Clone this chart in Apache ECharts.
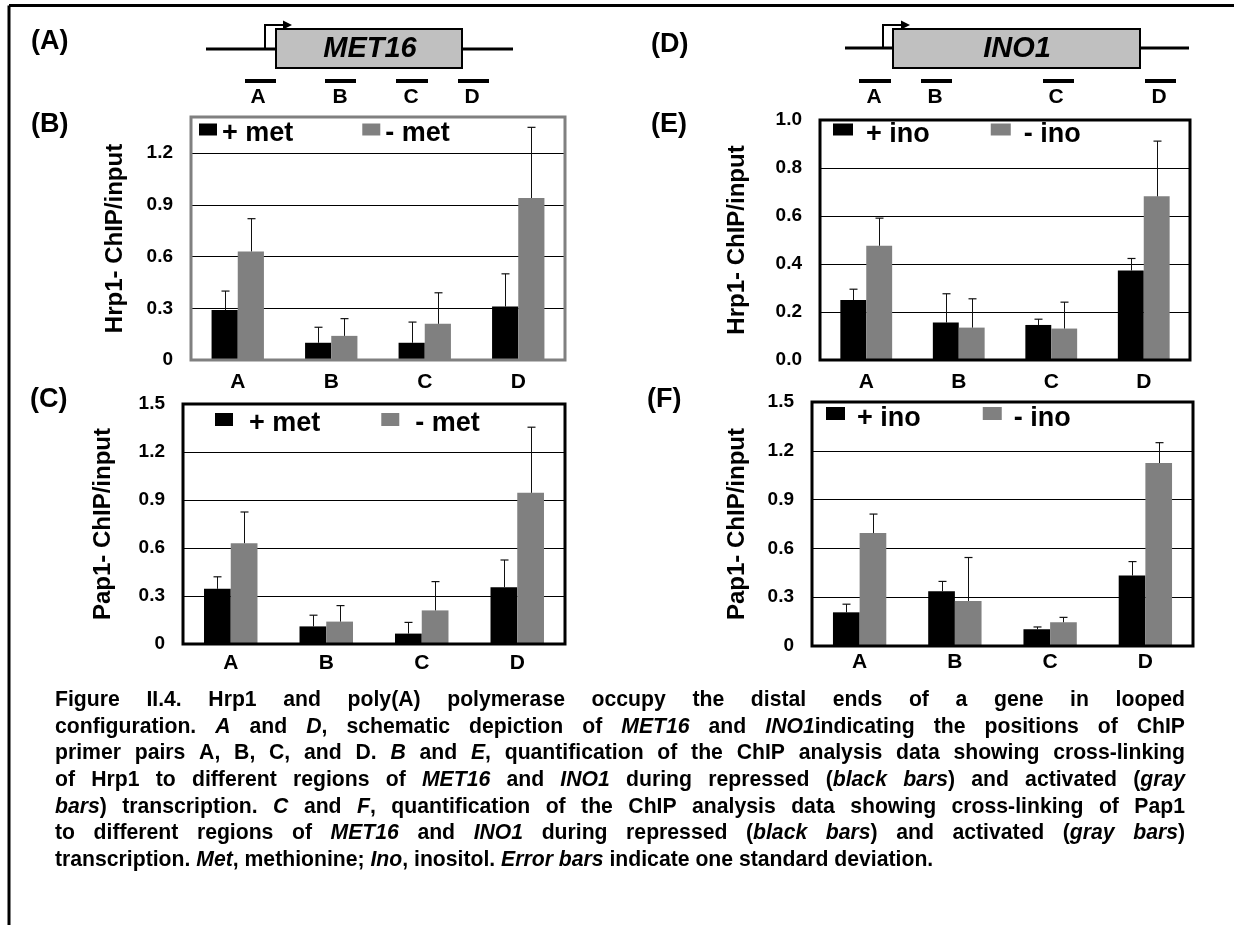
<!DOCTYPE html>
<html><head><meta charset="utf-8">
<script src="https://cdn.jsdelivr.net/npm/echarts@6/dist/echarts.min.js"></script>
<style>html,body{margin:0;padding:0;background:#fff}#c{width:1234px;height:925px}</style>
</head><body><div id="c"></div>
<script>
// ---------------- data ----------------
const categories = ['A', 'B', 'C', 'D'];
// (B) Hrp1 ChIP at MET16
const hrp1MetPlus = [0.29, 0.10, 0.10, 0.31];
const hrp1MetPlusSd = [0.11, 0.09, 0.12, 0.19];
const hrp1MetMinus = [0.63, 0.14, 0.21, 0.94];
const hrp1MetMinusSd = [0.19, 0.10, 0.18, 0.41];
// (C) Pap1 ChIP at MET16
const pap1MetPlus = [0.345, 0.11, 0.065, 0.355];
const pap1MetPlusSd = [0.075, 0.07, 0.07, 0.17];
const pap1MetMinus = [0.63, 0.14, 0.21, 0.945];
const pap1MetMinusSd = [0.195, 0.10, 0.18, 0.41];
// (E) Hrp1 ChIP at INO1
const hrp1InoPlus = [0.25, 0.156, 0.146, 0.373];
const hrp1InoPlusSd = [0.045, 0.12, 0.024, 0.05];
const hrp1InoMinus = [0.476, 0.135, 0.131, 0.682];
const hrp1InoMinusSd = [0.115, 0.12, 0.11, 0.23];
// (F) Pap1 ChIP at INO1
const pap1InoPlus = [0.207, 0.337, 0.103, 0.433];
const pap1InoPlusSd = [0.05, 0.06, 0.014, 0.086];
const pap1InoMinus = [0.694, 0.277, 0.146, 1.125];
const pap1InoMinusSd = [0.117, 0.267, 0.03, 0.125];
// axis ticks
const metHrpMax = 1.41, metHrpStep = 0.3;
const inoHrpMax = 1.0, inoHrpStep = 0.2;
const papMax = 1.5, papStep = 0.3;
const legendMet = ['+ met', '- met'];
const legendIno = ['+ ino', '- ino'];
const yNames = ['Hrp1- ChIP/input', 'Pap1- ChIP/input', 'Hrp1- ChIP/input', 'Pap1- ChIP/input'];
const panelLetters = ['(A)', '(B)', '(C)', '(D)', '(E)', '(F)'];
const geneNames = ['MET16', 'INO1'];
const captionLines = [
  'Figure II.4. Hrp1 and poly(A) polymerase occupy the distal ends of a gene in looped',
  'configuration. *A* and *D*, schematic depiction of *MET16* and *INO1*indicating the positions of ChIP',
  'primer pairs A, B, C, and D. *B* and *E*, quantification of the ChIP analysis data showing cross-linking',
  'of Hrp1 to different regions of *MET16* and *INO1* during repressed (*black bars*) and activated (*gray*',
  '*bars*) transcription. *C* and *F*, quantification of the ChIP analysis data showing cross-linking of Pap1',
  'to different regions of *MET16* and *INO1* during repressed (*black bars*) and activated (*gray bars*)',
  'transcription. *Met*, methionine; *Ino*, inositol. *Error bars* indicate one standard deviation.'
];

// ---------------- styling / layout ----------------
const FONT = '"Liberation Sans", Arial, sans-serif';
const BLACK = '#000000', GRAY = '#808080';
const grids = [
  { left: 191, top: 117, width: 374, height: 243, border: '#808080' }, // B
  { left: 183, top: 404, width: 382, height: 240, border: '#000' },    // C
  { left: 820, top: 120, width: 370, height: 240, border: '#000' },    // E
  { left: 812, top: 402, width: 381, height: 244, border: '#000' }     // F
];
const nameGaps = [64, 68, 71, 63];
const xMargins = [12, 9, 12, 6];

const fmt0 = v => (v === 0 ? '0' : v.toFixed(1));
const fmt1 = v => v.toFixed(1);

function yAx(gi, max, interval, fmt, showMax) {
  return {
    type: 'value', gridIndex: gi, min: 0, max: max, interval: interval,
    name: yNames[gi], nameLocation: 'middle', nameGap: nameGaps[gi], nameMoveOverlap: false,
    nameTextStyle: { fontSize: 24, fontWeight: 'bold', color: '#000', fontFamily: FONT },
    axisLine: { show: false }, axisTick: { show: false },
    axisLabel: { fontSize: 19, fontWeight: 'bold', color: '#000', fontFamily: FONT, margin: 18, formatter: fmt, showMaxLabel: showMax, showMinLabel: true },
    splitLine: { show: true, lineStyle: { color: '#000', width: 1 } }
  };
}
function xAx(gi) {
  return {
    type: 'category', gridIndex: gi, data: categories,
    axisLine: { show: false }, axisTick: { show: false },
    axisLabel: { fontSize: 21, fontWeight: 'bold', color: '#000', fontFamily: FONT, margin: xMargins[gi], interval: 0 },
    splitLine: { show: false }
  };
}
function barS(gi, name, data, color) {
  return { type: 'bar', name: name, xAxisIndex: gi, yAxisIndex: gi, data: data,
    barWidth: '28%', barGap: '0%', itemStyle: { color: color }, z: 2, silent: true };
}
function errS(gi, means, sds, side) {
  return {
    type: 'custom', xAxisIndex: gi, yAxisIndex: gi, z: 4, silent: true,
    data: means.map((m, i) => [i, m, sds[i]]),
    encode: { x: 0, y: 1 },
    renderItem: function (params, api) {
      const c = api.value(0), m = api.value(1), sd = api.value(2);
      const p0 = api.coord([c, m]);
      const p1 = api.coord([c, m + sd]);
      const bw = api.size([1, 0])[0];
      const x = Math.round(p0[0] + side * bw * 0.14) + 0.5;
      const cap = 4;
      return { type: 'group', children: [
        { type: 'line', shape: { x1: x, y1: p0[1], x2: x, y2: p1[1] }, style: { stroke: '#111', lineWidth: 1 } },
        { type: 'line', shape: { x1: x - cap, y1: p1[1], x2: x + cap, y2: p1[1] }, style: { stroke: '#111', lineWidth: 1.2 } }
      ] };
    }
  };
}
// legend square raised above the text centre: invisible point below the square extends the icon box
function sqIcon(w, h, d) { return 'path://M0,0L' + w + ',0L' + w + ',' + h + 'L0,' + h + 'Z M0,' + (h + 2 * d) + 'L0,' + (h + 2 * d); }
function leg(names, left, top, iw, ih, d, gap, pad) {
  return { data: names, left: left, top: top, orient: 'horizontal', itemWidth: iw, itemHeight: ih + 2 * d,
    itemGap: gap, padding: 0, selectedMode: false, icon: sqIcon(iw, ih, d),
    textStyle: { fontSize: 27, fontWeight: 'bold', color: '#000', fontFamily: FONT, padding: [0, 0, 0, pad] } };
}

// ---------------- graphics: frame, schematics, labels, caption ----------------
const g = [];
g.push({ type: 'line', shape: { x1: 9, y1: 5.5, x2: 1234, y2: 5.5 }, style: { stroke: '#000', lineWidth: 3 } });
g.push({ type: 'line', shape: { x1: 9, y1: 5.5, x2: 9, y2: 925 }, style: { stroke: '#000', lineWidth: 3 } });

function txt(t, x, y, size, opts) {
  return Object.assign({ type: 'text', x: x, y: y, style: { text: t, fill: '#000', fontSize: size, fontWeight: 'bold', fontFamily: FONT, textAlign: 'left', textVerticalAlign: 'middle' } }, opts || {});
}
// panel letters
const letterPos = [[31, 42], [31, 125], [30, 400], [651, 45], [651, 125], [647, 400]];
panelLetters.forEach((l, i) => g.push(txt(l, letterPos[i][0], letterPos[i][1], 27)));

function gene(lineX1, lineX2, lineY, boxX, boxW, name, nameX, arrowX, primers, letterX) {
  g.push({ type: 'line', shape: { x1: lineX1, y1: lineY, x2: lineX2, y2: lineY }, style: { stroke: '#000', lineWidth: 3 } });
  g.push({ type: 'rect', shape: { x: boxX, y: 29, width: boxW, height: 39 }, style: { fill: '#c0c0c0', stroke: '#000', lineWidth: 2 } });
  const t = txt(name, nameX, 49, 29); t.style.textAlign = 'center'; t.style.fontStyle = 'italic'; g.push(t);
  g.push({ type: 'polyline', shape: { points: [[arrowX, lineY], [arrowX, 25], [arrowX + 19, 25]] }, style: { stroke: '#000', lineWidth: 2, fill: null } });
  g.push({ type: 'polygon', shape: { points: [[arrowX + 18, 20.5], [arrowX + 27, 25], [arrowX + 18, 29.5]] }, style: { fill: '#000' } });
  primers.forEach((p, i) => {
    g.push({ type: 'rect', shape: { x: p[0], y: 79, width: p[1] - p[0], height: 4 }, style: { fill: '#000' } });
    const lt = txt(categories[i], letterX[i], 97, 21); lt.style.textAlign = 'center'; g.push(lt);
  });
}
gene(206, 513, 49, 276, 186, geneNames[0], 370, 265,
  [[245, 276], [325, 356], [396, 428], [458, 489]], [258, 340, 411, 472]);
gene(845, 1189, 48, 893, 247, geneNames[1], 1017, 883,
  [[859, 891], [921, 952], [1043, 1074], [1145, 1176]], [874, 935, 1056, 1159]);

// caption with justified lines
const capFont = 21.2, capLeft = 55, capRight = 1185, capTop = 700, capStep = 26.7;
const cctx = document.createElement('canvas').getContext('2d');
function mw(t, it) { cctx.font = (it ? 'italic ' : '') + 'bold ' + capFont + 'px "Liberation Sans"'; return cctx.measureText(t).width; }
function parseWords(line) {
  const words = []; let cur = []; let seg = ''; let it = false;
  const flush = () => { if (seg) { cur.push({ t: seg, it: it }); seg = ''; } };
  for (const ch of line) {
    if (ch === '*') { flush(); it = !it; }
    else if (ch === ' ') { flush(); if (cur.length) { words.push(cur); cur = []; } }
    else seg += ch;
  }
  flush(); if (cur.length) words.push(cur);
  return words;
}
captionLines.forEach((line, li) => {
  const words = parseWords(line);
  const widths = words.map(w => w.reduce((s, sg) => s + mw(sg.t, sg.it), 0));
  const total = widths.reduce((a, b) => a + b, 0);
  const last = li === captionLines.length - 1;
  const gap = last ? mw(' ', false) : (capRight - capLeft - total) / (words.length - 1);
  let x = capLeft;
  const y = capTop + li * capStep;
  words.forEach((w, wi) => {
    let sx = x;
    w.forEach(sg => {
      const t = txt(sg.t, sx, y, capFont);
      if (sg.it) t.style.fontStyle = 'italic';
      g.push(t);
      sx += mw(sg.t, sg.it);
    });
    x += widths[wi] + gap;
  });
});

// ---------------- option ----------------
const option = {
  animation: false,
  backgroundColor: '#fff',
  grid: grids.map(gr => ({ left: gr.left, top: gr.top, width: gr.width, height: gr.height, show: true,
    borderColor: gr.border, borderWidth: 3, backgroundColor: 'transparent', z: 3, containLabel: false, outerBoundsMode: 'none' })),
  xAxis: [xAx(0), xAx(1), xAx(2), xAx(3)],
  yAxis: [
    yAx(0, metHrpMax, metHrpStep, fmt0, false),
    yAx(1, papMax, papStep, fmt0, true),
    yAx(2, inoHrpMax, inoHrpStep, fmt1, true),
    yAx(3, papMax, papStep, fmt0, true)
  ],
  legend: [
    leg(legendMet, 199, 120, 18, 12, 4, 69, 0),
    leg(legendMet, 215, 410, 18, 13, 4, 61, 11),
    leg(legendIno, 833, 121, 20, 12, 5, 61, 8),
    leg(legendIno, 826, 405, 19, 13, 5, 62, 7)
  ],
  series: [
    barS(0, legendMet[0], hrp1MetPlus, BLACK), barS(0, legendMet[1], hrp1MetMinus, GRAY),
    errS(0, hrp1MetPlus, hrp1MetPlusSd, -1), errS(0, hrp1MetMinus, hrp1MetMinusSd, 1),
    barS(1, legendMet[0], pap1MetPlus, BLACK), barS(1, legendMet[1], pap1MetMinus, GRAY),
    errS(1, pap1MetPlus, pap1MetPlusSd, -1), errS(1, pap1MetMinus, pap1MetMinusSd, 1),
    barS(2, legendIno[0], hrp1InoPlus, BLACK), barS(2, legendIno[1], hrp1InoMinus, GRAY),
    errS(2, hrp1InoPlus, hrp1InoPlusSd, -1), errS(2, hrp1InoMinus, hrp1InoMinusSd, 1),
    barS(3, legendIno[0], pap1InoPlus, BLACK), barS(3, legendIno[1], pap1InoMinus, GRAY),
    errS(3, pap1InoPlus, pap1InoPlusSd, -1), errS(3, pap1InoMinus, pap1InoMinusSd, 1)
  ],
  graphic: { elements: g }
};
const chart = echarts.init(document.getElementById('c'), null, { renderer: 'canvas' });
chart.setOption(option);
</script>
</body></html>
